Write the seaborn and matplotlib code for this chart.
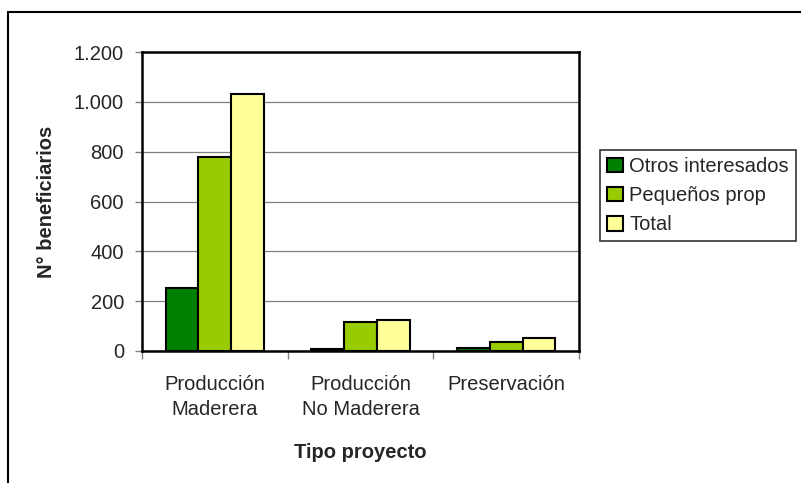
import matplotlib
matplotlib.use("Agg")
import matplotlib.pyplot as plt
import matplotlib.patches as mpatches
import seaborn as sns
import pandas as pd

categories = ["Producción\nMaderera", "Producción\nNo Maderera", "Preservación"]
series = ["Otros interesados", "Pequeños prop", "Total"]
otros = [253, 10, 12]
pequenos = [778, 115, 38]
total = [1030, 125, 52]
colors = ["#008000", "#99CC00", "#FFFF99"]
yticks = [0, 200, 400, 600, 800, 1000, 1200]
ytick_labels = ["0", "200", "400", "600", "800", "1.000", "1.200"]

rows = []
for s, vals in zip(series, [otros, pequenos, total]):
    for c, v in zip(categories, vals):
        rows.append({"Tipo": c, "Serie": s, "Valor": v})
df = pd.DataFrame(rows)

sns.set_style("white")
plt.rcParams["font.family"] = ["Liberation Sans", "DejaVu Sans"]

fig = plt.figure(figsize=(8.01, 4.83), dpi=100)
W, H = 801, 483
ax = fig.add_axes([142 / W, 1 - 351 / H, (579 - 142) / W, (351 - 52) / H])

sns.barplot(data=df, x="Tipo", y="Valor", hue="Serie", order=categories,
            hue_order=series, palette=colors, width=0.676, gap=0,
            edgecolor="black", linewidth=1.5, ax=ax, legend=False,
            saturation=1, zorder=3)

ax.set_ylim(0, 1200)
ax.set_xlim(-0.5, 2.5)
ax.set_yticks(yticks)
ax.set_yticklabels(ytick_labels, fontsize=14.5)
ax.yaxis.grid(True, color="#808080", linewidth=0.9, zorder=0)
ax.set_axisbelow(True)
ax.tick_params(axis="y", direction="out", length=5, width=1, color="#808080",
               pad=8, left=True)

ax.set_xticks([0, 1, 2])
ax.set_xticklabels(categories, fontsize=14.5, linespacing=1.45)
ax.set_xticks([-0.5, 0.5, 1.5, 2.5], minor=True)
ax.tick_params(axis="x", which="major", length=0, pad=17)
ax.tick_params(axis="x", which="minor", direction="out", length=6, width=1,
               color="#808080", bottom=True)

for sp in ax.spines.values():
    sp.set_visible(True)
    sp.set_color("black")
    sp.set_linewidth(1.8)

ax.set_ylabel("N° beneficiarios", fontsize=14.5, fontweight="bold", labelpad=13)
ax.set_xlabel("Tipo proyecto", fontsize=14.5, fontweight="bold", labelpad=17)

handles = [mpatches.Patch(facecolor=c, edgecolor="black", linewidth=1.5, label=s)
           for c, s in zip(colors, series)]
leg = fig.legend(handles=handles, loc="upper left",
                 bbox_to_anchor=(600 / W, 1 - 150 / H), fontsize=14.5,
                 frameon=True, fancybox=False, borderpad=0.35,
                 handlelength=0.8, handleheight=0.75, handletextpad=0.3,
                 labelspacing=0.5, borderaxespad=0)
leg.get_frame().set_edgecolor("black")
leg.get_frame().set_linewidth(1.2)

# outer chart border (left and top visible)
fig.add_artist(mpatches.Rectangle((8 / W, -0.1), 1.1, 1.1 - 12 / H,
                                  transform=fig.transFigure, fill=False,
                                  edgecolor="black", linewidth=1.5))

fig.savefig("out.png", dpi=100)
